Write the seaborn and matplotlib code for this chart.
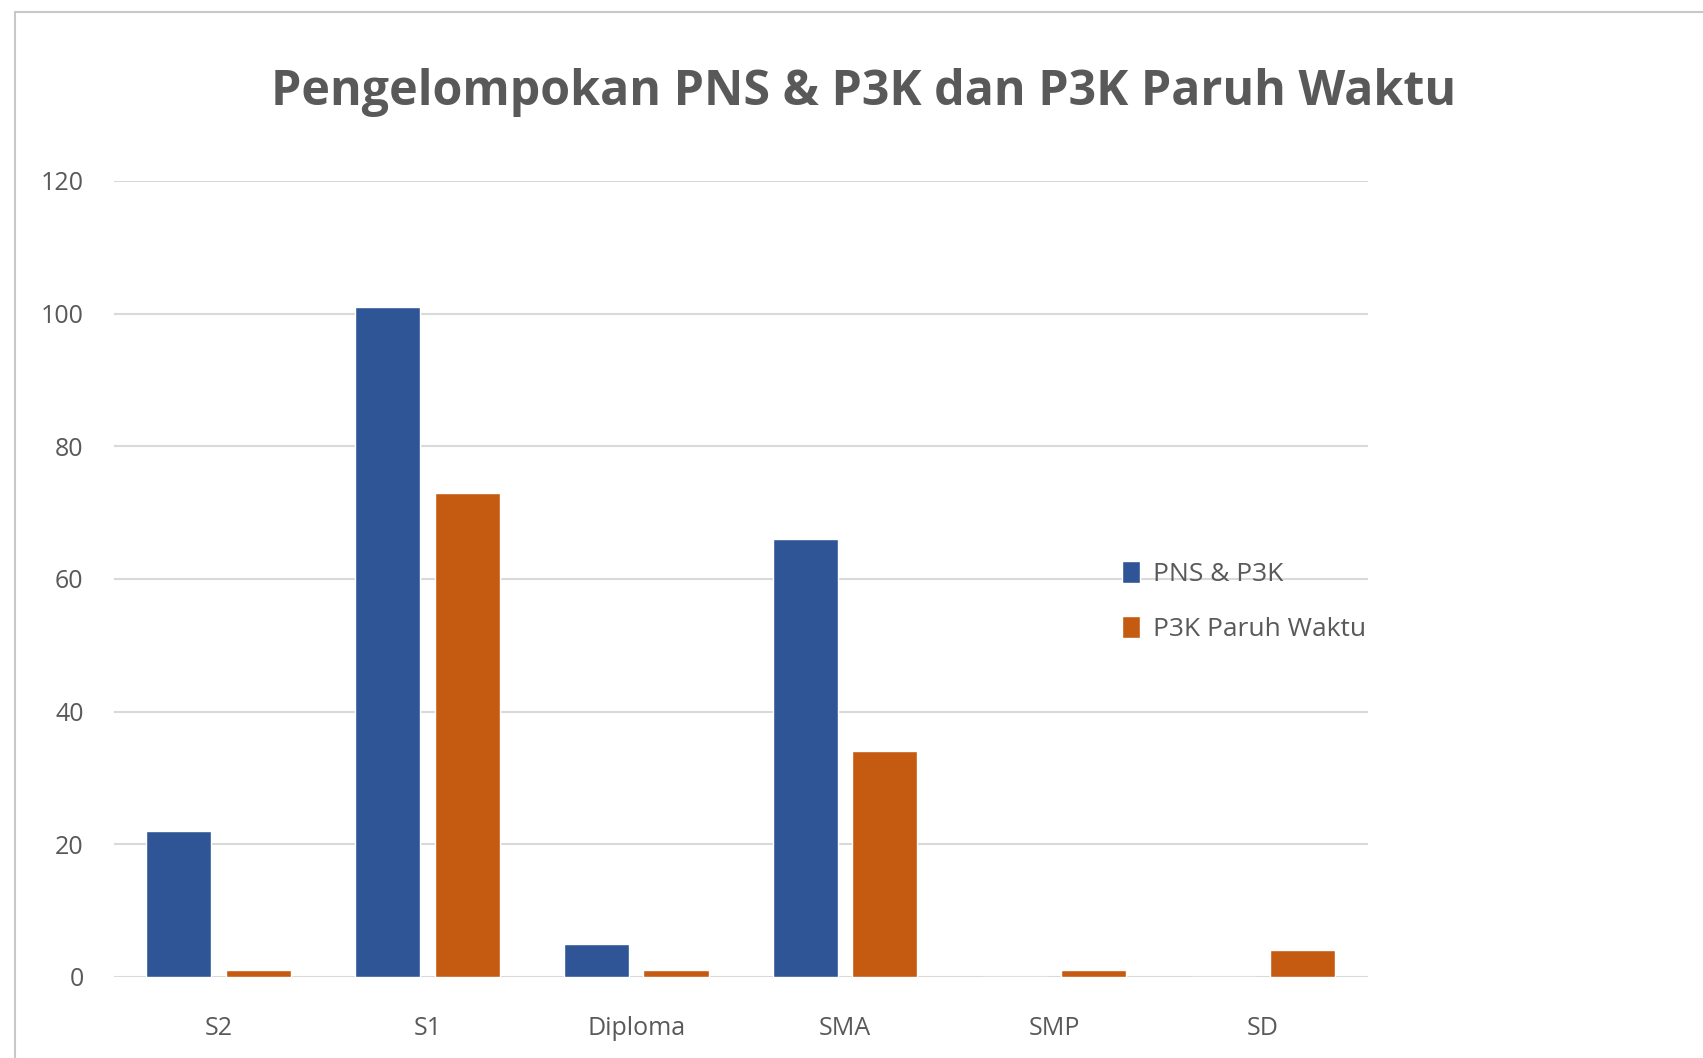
import pandas as pd
import matplotlib.pyplot as plt
import seaborn as sns
from matplotlib.lines import Line2D

categories = ["S2", "S1", "Diploma", "SMA", "SMP", "SD"]
pns_p3k = [22, 101, 5, 66, 0, 0]
p3k_paruh_waktu = [1, 73, 1, 34, 1, 4]
series_names = ["PNS & P3K", "P3K Paruh Waktu"]
y_ticks = [0, 20, 40, 60, 80, 100, 120]

df = pd.DataFrame({
    "kategori": categories * 2,
    "jumlah": pns_p3k + p3k_paruh_waktu,
    "seri": [series_names[0]] * len(categories) + [series_names[1]] * len(categories),
})

sns.set_theme(style="white")
plt.rcParams['font.family'] = ['Open Sans', 'DejaVu Sans']
text_color = "#595959"
colors = {"PNS & P3K": "#2F5597", "P3K Paruh Waktu": "#C55A11"}

fig = plt.figure(figsize=(17.03, 10.58), dpi=100)
ax = fig.add_axes([0.067, 0.0766, 0.736, 0.7524])

sns.barplot(data=df, x="kategori", y="jumlah", hue="seri", order=categories,
            hue_order=series_names, palette=colors, width=0.76, gap=0.18,
            saturation=1, ax=ax)

ax.set_ylim(0, 120)
ax.set_xlim(-0.5, 5.5)
ax.set_yticks(y_ticks)
ax.yaxis.grid(True, color="#d9d9d9", linewidth=1.5)
ax.set_axisbelow(True)
for s in ax.spines.values():
    s.set_visible(False)
ax.axhline(0, color="#d9d9d9", linewidth=2, zorder=0)
ax.set_xlabel("")
ax.set_ylabel("")
ax.tick_params(axis="both", length=0, labelsize=18, labelcolor=text_color)
ax.tick_params(axis="y", pad=22)
ax.tick_params(axis="x", pad=28)

leg = ax.legend(loc="center left", bbox_to_anchor=(0.785, 0.472), frameon=False,
                fontsize=19, handlelength=0.7, handleheight=0.9, handletextpad=0.5,
                labelspacing=1.1)
for t in leg.get_texts():
    t.set_color(text_color)

fig.text(0.507, 0.913, "Pengelompokan PNS & P3K dan P3K Paruh Waktu", ha="center",
         va="center", fontsize=34.8, fontweight="bold", color=text_color)

# frame of the screenshot
fig.add_artist(Line2D([0.009, 0.009], [0.0, 0.989], color="#c8c8c8", linewidth=1.5))
fig.add_artist(Line2D([0.009, 1.0], [0.989, 0.989], color="#c8c8c8", linewidth=1.5))

fig.savefig("out.png", dpi=100, facecolor="white")
